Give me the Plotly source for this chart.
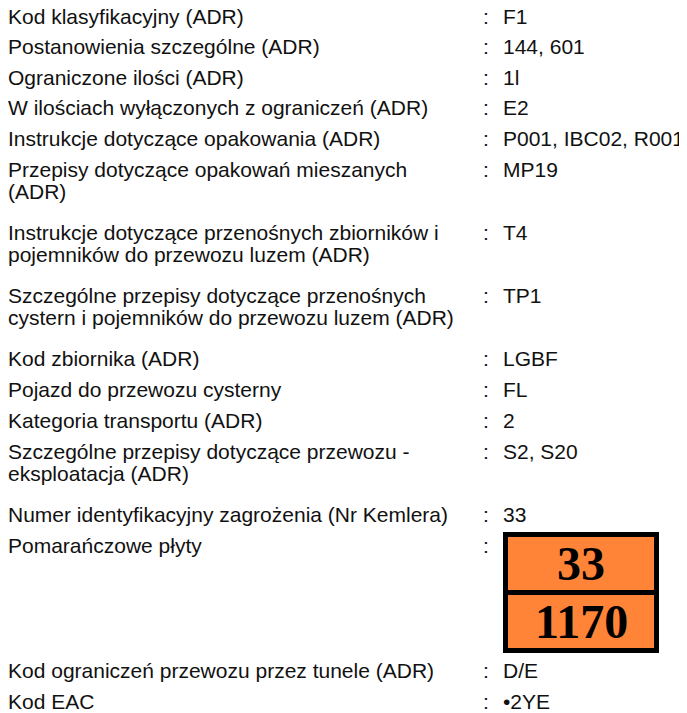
import plotly.graph_objects as go

# ---- data ----
labels = [
    "Kod klasyfikacyjny (ADR)",
    "Postanowienia szczególne (ADR)",
    "Ograniczone ilości (ADR)",
    "W ilościach wyłączonych z ograniczeń (ADR)",
    "Instrukcje dotyczące opakowania (ADR)",
    "Przepisy dotyczące opakowań mieszanych\n(ADR)",
    "Instrukcje dotyczące przenośnych zbiorników i\npojemników do przewozu luzem (ADR)",
    "Szczególne przepisy dotyczące przenośnych\ncystern i pojemników do przewozu luzem (ADR)",
    "Kod zbiornika (ADR)",
    "Pojazd do przewozu cysterny",
    "Kategoria transportu (ADR)",
    "Szczególne przepisy dotyczące przewozu -\neksploatacja (ADR)",
    "Numer identyfikacyjny zagrożenia (Nr Kemlera)",
    "Pomarańczowe płyty",
    "Kod ograniczeń przewozu przez tunele (ADR)",
    "Kod EAC",
]
values = [
    "F1", "144, 601", "1l", "E2", "P001, IBC02, R001", "MP19", "T4", "TP1",
    "LGBF", "FL", "2", "S2, S20", "33", None, "D/E", "•2YE",
]
plate_hazard_number = "33"
plate_un_number = "1170"
plate_row = 13

# ---- layout constants (screen pixels; page body has an 8px margin) ----
W, H = 687, 713
OFF = 8
FONT = "Liberation Sans, Arial, sans-serif"
FS = 21
TXT = "#111"
LABEL_X = 8
COLON_X = 481
VALUE_X = 501
LINE_H = 22.5
TOP_STEP = 30.5     # spacing of the first block of single rows
SINGLE_STEP = 31
DOUBLE_STEP = 63
PLATE_STEP = 125
FIRST_Y = 16

fig = go.Figure()
annotations = []
shapes = []


def txt(x, y, s, xshift=0, **kw):
    d = dict(x=x, y=y, xref="x", yref="y", text=s, showarrow=False, xanchor="left",
             yanchor="middle", xshift=xshift, font=dict(family=FONT, size=FS, color=TXT))
    d.update(kw)
    return d


y = FIRST_Y
for i, (lab, val) in enumerate(zip(labels, values)):
    lines = lab.split("\n")
    for k, line in enumerate(lines):
        annotations.append(txt(LABEL_X, y + k * LINE_H, line, xshift=-2))
    annotations.append(txt(COLON_X, y, ":"))
    if val is not None:
        annotations.append(txt(VALUE_X, y, val))
    if i == plate_row:
        px0, px1, py0, py1, b = 503, 659, 532, 653, 5
        mid = (py0 + py1) / 2
        shapes.append(dict(type="rect", xref="x", yref="y", x0=px0, x1=px1, y0=py0, y1=py1,
                           fillcolor="#000", line=dict(width=0)))
        shapes.append(dict(type="rect", xref="x", yref="y", x0=px0 + b, x1=px1 - b,
                           y0=py0 + b, y1=mid - b / 2, fillcolor="#FF8438", line=dict(width=0)))
        shapes.append(dict(type="rect", xref="x", yref="y", x0=px0 + b, x1=px1 - b,
                           y0=mid + b / 2, y1=py1 - b, fillcolor="#FF8438", line=dict(width=0)))
        for t, cy in ((plate_hazard_number, (py0 + b + mid - b / 2) / 2),
                      (plate_un_number, (mid + b / 2 + py1 - b) / 2)):
            annotations.append(dict(x=(px0 + px1) / 2, y=cy, xref="x", yref="y",
                                    text="<b>%s</b>" % t, showarrow=False,
                                    xanchor="center", yanchor="middle",
                                    font=dict(family="Liberation Serif, Times New Roman, serif",
                                              size=48, color="#000")))
    if i == plate_row:
        y += PLATE_STEP
    elif len(lines) > 1:
        y += DOUBLE_STEP
    elif i < 4:
        y += TOP_STEP
    else:
        y += SINGLE_STEP

fig.update_layout(
    width=W - OFF, height=H - OFF, margin=dict(l=0, r=0, t=0, b=0),
    paper_bgcolor="white", plot_bgcolor="white",
    xaxis=dict(range=[OFF, W], visible=False, fixedrange=True),
    yaxis=dict(range=[H, OFF], visible=False, fixedrange=True),
    annotations=annotations, shapes=shapes, showlegend=False,
)
fig.write_html("out.html")
